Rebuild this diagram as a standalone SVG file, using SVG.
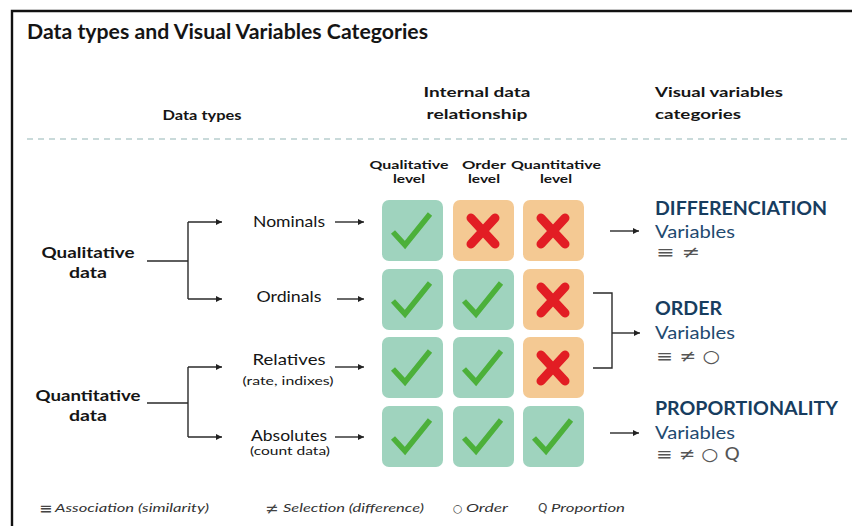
<svg xmlns="http://www.w3.org/2000/svg" width="852" height="526" viewBox="0 0 852 526">
<defs>
<marker id="ah" markerUnits="userSpaceOnUse" markerWidth="7" markerHeight="7" refX="6" refY="3" orient="auto">
<path d="M0,0 L6,3 L0,6 z" fill="#222"/>
</marker>
<g id="chk"><path d="M11,32 L23,45 L48,14" fill="none" stroke="#4cb03a" stroke-width="5.5" stroke-linejoin="miter"/></g>
<g id="crs"><path d="M18,18 L42,44 M42,18 L18,44" fill="none" stroke="#e21d24" stroke-width="9" stroke-linecap="round"/></g>
</defs>
<style>
.t{font-family:Lato,"Liberation Sans",sans-serif;fill:#151515}
.b{font-weight:bold}
.n{font-weight:normal}
.g{fill:#9fd3be}
.o{fill:#f4c993}
.ln{fill:none;stroke:#2a2a2a;stroke-width:1.4}
.cat{font-family:Lato,"Liberation Sans",sans-serif;font-weight:bold;font-size:18px;fill:#173d5f}
.var{font-family:Lato,"Liberation Sans",sans-serif;font-size:18px;fill:#1f4a70}
.sym{font-family:"DejaVu Sans",sans-serif;font-size:17px;fill:#555}
.leg{font-family:Lato,"Liberation Sans",sans-serif;font-style:italic;font-size:12px;fill:#333}
.ls{font-family:"DejaVu Sans",sans-serif;font-size:16px;fill:#444}
.ls2{font-family:"DejaVu Sans",sans-serif;font-size:11px;fill:#444}
</style>
<rect width="852" height="526" fill="#fff"/>
<path d="M12,526 L12,11 L852,11" fill="none" stroke="#111" stroke-width="2.4"/>
<text id="title" class="t b" x="27" y="39" font-size="20" textLength="401" lengthAdjust="spacingAndGlyphs">Data types and Visual Variables Categories</text>

<g id="headers">
<text class="t b" x="202" y="120" font-size="14" text-anchor="middle" textLength="79" lengthAdjust="spacingAndGlyphs">Data types</text>
<text class="t b" x="477" y="97" font-size="14" text-anchor="middle" textLength="107" lengthAdjust="spacingAndGlyphs">Internal data</text>
<text class="t b" x="477" y="119" font-size="14" text-anchor="middle" textLength="101" lengthAdjust="spacingAndGlyphs">relationship</text>
<text class="t b" x="655" y="97" font-size="14" textLength="128" lengthAdjust="spacingAndGlyphs">Visual variables</text>
<text class="t b" x="655" y="119" font-size="14" textLength="86" lengthAdjust="spacingAndGlyphs">categories</text>
</g>
<line x1="27" y1="139" x2="852" y2="139" stroke="#c9dada" stroke-width="2" stroke-dasharray="6 5"/>

<g id="colheaders">
<text class="t b" x="409" y="169" font-size="12" text-anchor="middle" textLength="79" lengthAdjust="spacingAndGlyphs">Qualitative</text>
<text class="t b" x="409" y="183" font-size="12" text-anchor="middle" textLength="32" lengthAdjust="spacingAndGlyphs">level</text>
<text class="t b" x="484" y="169" font-size="12" text-anchor="middle" textLength="44" lengthAdjust="spacingAndGlyphs">Order</text>
<text class="t b" x="484" y="183" font-size="12" text-anchor="middle" textLength="32" lengthAdjust="spacingAndGlyphs">level</text>
<text class="t b" x="556" y="169" font-size="12" text-anchor="middle" textLength="90" lengthAdjust="spacingAndGlyphs">Quantitative</text>
<text class="t b" x="556" y="183" font-size="12" text-anchor="middle" textLength="32" lengthAdjust="spacingAndGlyphs">level</text>
</g>

<g id="qualitative-data">
<text class="t b" x="88" y="258" font-size="15" text-anchor="middle" textLength="93" lengthAdjust="spacingAndGlyphs">Qualitative</text>
<text class="t b" x="88" y="278" font-size="15" text-anchor="middle" textLength="38" lengthAdjust="spacingAndGlyphs">data</text>
</g>
<g id="quantitative-data">
<text class="t b" x="88" y="401" font-size="15" text-anchor="middle" textLength="105" lengthAdjust="spacingAndGlyphs">Quantitative</text>
<text class="t b" x="88" y="421" font-size="15" text-anchor="middle" textLength="38" lengthAdjust="spacingAndGlyphs">data</text>
</g>

<g id="nominals"><text class="t n" x="289" y="227" font-size="16" text-anchor="middle" textLength="72" lengthAdjust="spacingAndGlyphs">Nominals</text></g>
<g id="ordinals"><text class="t n" x="289" y="302" font-size="16" text-anchor="middle" textLength="65" lengthAdjust="spacingAndGlyphs">Ordinals</text></g>
<g id="relatives">
<text class="t n" x="289" y="365" font-size="16" text-anchor="middle" textLength="73" lengthAdjust="spacingAndGlyphs">Relatives</text>
<text class="t n" x="288" y="385" font-size="11" text-anchor="middle" textLength="91" lengthAdjust="spacingAndGlyphs">(rate, indixes)</text>
</g>
<g id="absolutes">
<text class="t n" x="289" y="441" font-size="16" text-anchor="middle" textLength="76" lengthAdjust="spacingAndGlyphs">Absolutes</text>
<text class="t n" x="290" y="455" font-size="11" text-anchor="middle" textLength="80" lengthAdjust="spacingAndGlyphs">(count data)</text>
</g>

<g id="grid">
<g id="r1">
<rect class="g" x="382" y="200" width="61" height="61" rx="7"/><use href="#chk" x="382" y="200"/>
<rect class="o" x="453" y="200" width="61" height="61" rx="7"/><use href="#crs" x="453" y="200"/>
<rect class="o" x="523" y="200" width="61" height="61" rx="7"/><use href="#crs" x="523" y="200"/>
</g>
<g id="r2">
<rect class="g" x="382" y="269" width="61" height="61" rx="7"/><use href="#chk" x="382" y="269"/>
<rect class="g" x="453" y="269" width="61" height="61" rx="7"/><use href="#chk" x="453" y="269"/>
<rect class="o" x="523" y="269" width="61" height="61" rx="7"/><use href="#crs" x="523" y="269"/>
</g>
<g id="r3">
<rect class="g" x="382" y="337" width="61" height="61" rx="7"/><use href="#chk" x="382" y="337"/>
<rect class="g" x="453" y="337" width="61" height="61" rx="7"/><use href="#chk" x="453" y="337"/>
<rect class="o" x="523" y="337" width="61" height="61" rx="7"/><use href="#crs" x="523" y="337"/>
</g>
<g id="r4">
<rect class="g" x="382" y="406" width="61" height="61" rx="7"/><use href="#chk" x="382" y="406"/>
<rect class="g" x="453" y="406" width="61" height="61" rx="7"/><use href="#chk" x="453" y="406"/>
<rect class="g" x="523" y="406" width="61" height="61" rx="7"/><use href="#chk" x="523" y="406"/>
</g>
</g>

<g id="differenciation">
<text class="cat" x="655" y="215" textLength="172" lengthAdjust="spacingAndGlyphs">DIFFERENCIATION</text>
<text class="var" x="655" y="238" textLength="80" lengthAdjust="spacingAndGlyphs">Variables</text>
<text class="sym" x="656" y="258" textLength="44" lengthAdjust="spacingAndGlyphs">≡ ≠</text>
</g>
<g id="order">
<text class="cat" x="655" y="315" textLength="67" lengthAdjust="spacingAndGlyphs">ORDER</text>
<text class="var" x="655" y="339" textLength="80" lengthAdjust="spacingAndGlyphs">Variables</text>
<text class="sym" x="656" y="362" textLength="64" lengthAdjust="spacingAndGlyphs">≡ ≠ ○</text>
</g>
<g id="proportionality">
<text class="cat" x="655" y="415" textLength="183" lengthAdjust="spacingAndGlyphs">PROPORTIONALITY</text>
<text class="var" x="655" y="439" textLength="80" lengthAdjust="spacingAndGlyphs">Variables</text>
<text class="sym" x="656" y="460" textLength="84" lengthAdjust="spacingAndGlyphs">≡ ≠ ○ Q</text>
</g>

<g id="connectors">
<path class="ln" d="M147,261 L188,261 M188,222 L188,299"/>
<path class="ln" d="M188,222 L222,222" marker-end="url(#ah)"/>
<path class="ln" d="M188,299 L222,299" marker-end="url(#ah)"/>
<path class="ln" d="M147,403 L188,403 M188,367 L188,437"/>
<path class="ln" d="M188,367 L222,367" marker-end="url(#ah)"/>
<path class="ln" d="M188,437 L222,437" marker-end="url(#ah)"/>
<path class="ln" d="M335,222 L364,222" marker-end="url(#ah)"/>
<path class="ln" d="M337,299 L364,299" marker-end="url(#ah)"/>
<path class="ln" d="M335,367 L364,367" marker-end="url(#ah)"/>
<path class="ln" d="M335,437 L364,437" marker-end="url(#ah)"/>
<path class="ln" d="M610,231 L639,231" marker-end="url(#ah)"/>
<path class="ln" d="M593,293 L612,293 L612,368 L593,368"/>
<path class="ln" d="M612,333 L640,333" marker-end="url(#ah)"/>
<path class="ln" d="M610,433 L639,433" marker-end="url(#ah)"/>
</g>

<g id="legend">
<text class="ls" x="39" y="514">≡</text>
<text class="leg" x="55" y="512" textLength="154" lengthAdjust="spacingAndGlyphs">Association (similarity)</text>
<text class="ls" x="265" y="514">≠</text>
<text class="leg" x="283" y="512" textLength="141" lengthAdjust="spacingAndGlyphs">Selection (difference)</text>
<text class="ls2" x="453" y="512">○</text>
<text class="leg" x="466" y="512" textLength="42" lengthAdjust="spacingAndGlyphs">Order</text>
<text class="ls2" x="538" y="512" style="font-size:12px">Q</text>
<text class="leg" x="551" y="512" textLength="74" lengthAdjust="spacingAndGlyphs">Proportion</text>
</g>
</svg>
